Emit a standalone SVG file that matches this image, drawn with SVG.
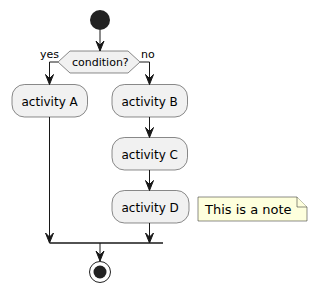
<svg xmlns="http://www.w3.org/2000/svg" width="317" height="295" viewBox="0 0 317 295">
<style>
.act{fill:#F1F1F1;stroke:#181818;stroke-width:0.5}
.t{font-family:"DejaVu Sans",sans-serif;font-size:12px;fill:#000}
.s{font-family:"DejaVu Sans",sans-serif;font-size:11px;fill:#000}
.ln{fill:none;stroke:#181818;stroke-width:1}
.ah{fill:#181818;stroke:#181818;stroke-width:1}
</style>
<defs>
<polygon id="ah" points="-4,-10 0,0 4,-10 0,-6" class="ah"/>
</defs>
<rect width="317" height="295" fill="#FFFFFF"/>
<g id="start"><circle cx="100" cy="20" r="10" fill="#222222"/></g>
<g id="condition">
<polygon class="act" points="58,62 70,51 128,51 140,62 128,73 70,73"/>
<text class="s" x="72" y="66">condition?</text>
</g>
<g id="activityA"><rect class="act" x="12" y="84.5" width="75.5" height="32.5" rx="12.5" ry="12.5"/><text class="t" x="21.5" y="106">activity A</text></g>
<g id="activityB"><rect class="act" x="112" y="84.5" width="75.5" height="32.5" rx="12.5" ry="12.5"/><text class="t" x="121.5" y="106">activity B</text></g>
<g id="activityC"><rect class="act" x="112" y="137.5" width="75.5" height="32.5" rx="12.5" ry="12.5"/><text class="t" x="121.5" y="159">activity C</text></g>
<g id="activityD"><rect class="act" x="112" y="190.5" width="77" height="32.5" rx="12.5" ry="12.5"/><text class="t" x="121.5" y="212">activity D</text></g>
<g id="note">
<path d="M198,197 L297,197 L307,207 L307,221 L198,221 Z" fill="#FEFFDD" stroke="#181818" stroke-width="0.5"/>
<path d="M297,197 L297,207 L307,207" fill="#FEFFDD" stroke="#181818" stroke-width="0.5"/>
<text x="205" y="214" font-family="DejaVu Sans, sans-serif" font-size="13" fill="#000">This is a note</text>
</g>
<g id="merge"><line x1="49.5" y1="243" x2="163" y2="243" stroke="#181818" stroke-width="1.5"/></g>
<g id="end"><circle cx="100" cy="272" r="10.5" fill="none" stroke="#222222" stroke-width="1"/><circle cx="100" cy="272" r="6.5" fill="#222222"/></g>
<g id="connectors">
<line class="ln" x1="100" y1="30" x2="100" y2="51"/><use href="#ah" x="100" y="51"/>
<polyline class="ln" points="58,62 49.5,62 49.5,84.5"/><use href="#ah" x="49.5" y="84.5"/>
<text class="s" x="40" y="58">yes</text>
<polyline class="ln" points="140,62 149.5,62 149.5,84.5"/><use href="#ah" x="149.5" y="84.5"/>
<text class="s" x="141" y="58">no</text>
<line class="ln" x1="149.5" y1="117" x2="149.5" y2="137.5"/><use href="#ah" x="149.5" y="137.5"/>
<line class="ln" x1="149.5" y1="170" x2="149.5" y2="190.5"/><use href="#ah" x="149.5" y="190.5"/>
<line class="ln" x1="49.5" y1="117" x2="49.5" y2="243"/><use href="#ah" x="49.5" y="243"/>
<line class="ln" x1="149.5" y1="223" x2="149.5" y2="243"/><use href="#ah" x="149.5" y="243"/>
<line class="ln" x1="100" y1="243" x2="100" y2="261"/><use href="#ah" x="100" y="261"/>
</g>
</svg>
